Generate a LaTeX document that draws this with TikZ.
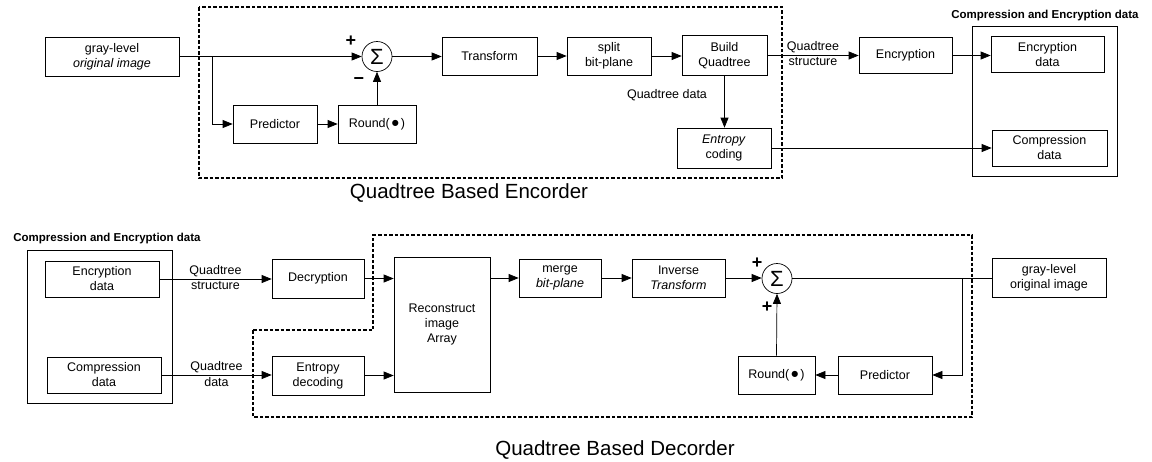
\documentclass[tikz,border=0pt]{standalone}
\usepackage{fontspec}
\setmainfont{Liberation Sans}
\newfontfamily\symfont{DejaVu Sans}
\usetikzlibrary{arrows.meta,calc}
\newcommand{\rndbul}{Round(\,\raisebox{1.6pt}{\symfont\fontsize{8}{8}\selectfont ●}\,)}
\begin{document}
\begin{tikzpicture}[x=1pt,y=-1pt,
  blk/.style={draw,line width=0.7pt,inner sep=0pt,align=center,font=\fontsize{12.5}{15}\selectfont},
  sumc/.style={draw,circle,line width=0.7pt,minimum size=30pt,inner sep=0pt,font=\fontsize{22}{22}\selectfont},
  arr/.style={line width=0.7pt,-{Triangle[length=10pt,width=8pt]}},
  ln/.style={line width=0.7pt},
  dbox/.style={line width=1.3pt,dash pattern=on 3.5pt off 2pt},
  grp/.style={line width=0.7pt},
  lbl/.style={font=\fontsize{12.5}{15}\selectfont,inner sep=2pt,align=center},
  ttl/.style={font=\fontsize{20.5}{24}\selectfont,inner sep=0pt},
  hdr/.style={font=\bfseries\fontsize{11.5}{14}\selectfont,inner sep=0pt},
  sgn/.style={font=\bfseries\fontsize{18}{18}\selectfont,inner sep=0pt}]
\fill[white] (0,0) rectangle (1152,461);
\useasboundingbox (0,0) rectangle (1152,461);

% ---------------- Encoder ----------------
\draw[dbox] (199,7) rectangle (782,178);
\node[ttl] (enctitle) at (469,193) {Quadtree Based Encorder};

\node[blk,minimum width=134pt,minimum height=39pt] (gray1) at (112,56.5) {gray-level\\\textit{original image}};
\node[blk,minimum width=84pt,minimum height=38pt] (pred1) at (275,124) {Predictor};
\node[blk,minimum width=78pt,minimum height=38pt] (round1) at (377,124) {\rndbul};
\node[sumc] (sum1) at (377,56.5) {Σ};
\node[blk,minimum width=95pt,minimum height=38pt] (trans) at (489.5,56) {Transform};
\node[blk,minimum width=84pt,minimum height=38pt] (split) at (609,56) {split\\bit-plane};
\node[blk,minimum width=85pt,minimum height=40pt] (build) at (724.5,55.5) {Build\\Quadtree};
\node[blk,minimum width=94pt,minimum height=40pt] (ent) at (724,148) {\textit{Entropy}\\coding};
\node[blk,minimum width=93pt,minimum height=36pt] (encr) at (905.5,55.5) {Encryption};
\draw[grp] (972,26) rectangle (1117,176);
\node[hdr] (hdr1) at (1045,16) {Compression and Encryption data};
\node[blk,minimum width=113pt,minimum height=36pt] (encd) at (1047.5,54.5) {Encryption\\data};
\node[blk,minimum width=115pt,minimum height=36pt] (compd) at (1049.5,148) {Compression\\data};

\node[sgn] (p1) at (351,41) {+};
\node[sgn] (m1) at (359,81) {−};
\node[lbl] (qdata) at (667,95) {Quadtree data};

\coordinate (br1) at (212,56.5);
\draw[arr] (gray1.east) -- (sum1.west);
\draw[arr] (br1) |- (pred1.west);
\draw[arr] (pred1.east) -- (round1.west);
\draw[arr] (round1.north) -- (sum1.south);
\draw[arr] (sum1.east) -- (sum1.east -| trans.west);
\draw[arr] (trans.east) -- (trans.east -| split.west);
\draw[arr] (split.east) -- (split.east -| build.west);
\draw[arr] (build.east) -- node[lbl,above] (qs1a) {Quadtree} node[lbl,below] (qs1b) {structure} (build.east -| encr.west);
\draw[arr] (encr.east) -- (encr.east -| encd.west);
\draw[arr] (build.south) -- (build.south |- ent.north);
\draw[arr] (ent.east) -- (ent.east -| compd.west);

% ---------------- Decoder ----------------
\draw[dbox] (253,330) -- (373,330) -- (373,235) -- (972,235) -- (972,417) -- (253,417) -- cycle;
\node[ttl] (dectitle) at (615,450) {Quadtree Based Decorder};

\node[hdr] (hdr2) at (107,239) {Compression and Encryption data};
\draw[grp] (27,250) rectangle (172,403);
\node[blk,minimum width=114pt,minimum height=36pt] (encd2) at (102,279) {Encryption\\data};
\node[blk,minimum width=114pt,minimum height=36pt] (compd2) at (104,375) {Compression\\data};
\node[blk,minimum width=92pt,minimum height=39pt] (decr) at (318,278.5) {Decryption};
\node[blk,minimum width=92pt,minimum height=39pt] (entd) at (318,375.5) {Entropy\\decoding};
\node[blk,minimum width=96pt,minimum height=135pt] (recon) at (442,324.5) {Reconstruct\\image\\Array};
\node[blk,minimum width=82pt,minimum height=38pt] (merge) at (560,278) {merge\\\textit{bit-plane}};
\node[blk,minimum width=93pt,minimum height=38pt] (inv) at (678.5,278) {Inverse\\\textit{Transform}};
\node[sumc] (sum2) at (777,278.5) {Σ};
\node[blk,minimum width=77pt,minimum height=38pt] (round2) at (776.5,375) {\rndbul};
\node[blk,minimum width=94pt,minimum height=38pt] (pred2) at (885,375) {Predictor};
\node[blk,minimum width=114pt,minimum height=39pt] (gray2) at (1049,277.5) {gray-level\\original image};

\node[sgn] (p2) at (757,263) {+};
\node[sgn] (p3) at (767,307) {+};

\draw[arr] (encd2.east) -- node[lbl,above] (qs2a) {Quadtree} node[lbl,below] (qs2b) {structure} (encd2.east -| decr.west);
\draw[arr] (decr.east) -- (decr.east -| recon.west);
\draw[arr] (compd2.east) -- node[lbl,above] (qd2a) {Quadtree} node[lbl,below] (qd2b) {data} (compd2.east -| entd.west);
\draw[arr] (entd.east) -- (entd.east -| recon.west);
\draw[arr] (merge.west -| recon.east) -- (merge.west);
\draw[arr] (merge.east) -- (inv.west);
\draw[arr] (inv.east) -- (inv.east -| sum2.west);
\draw[ln] (sum2.east) -- (sum2.east -| gray2.west);
\coordinate (br2) at (962,278.5);
\draw[arr] (br2) |- (pred2.east);
\draw[arr] (pred2.west) -- (round2.east);
\draw[arr] (round2.north) -- (sum2.south);
\end{tikzpicture}
\end{document}
